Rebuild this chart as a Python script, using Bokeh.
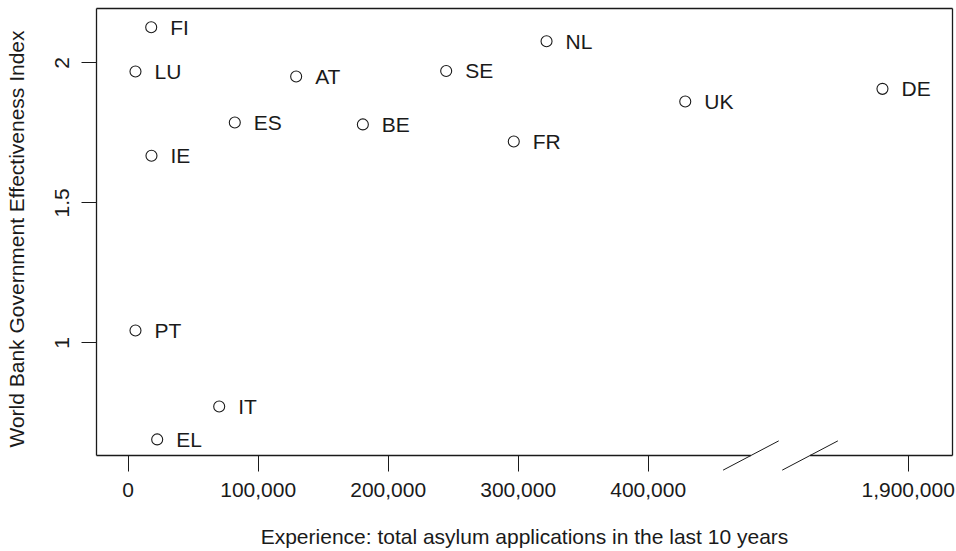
from bokeh.plotting import figure
from bokeh.models import Range1d, FixedTicker, ColumnDataSource
from bokeh.core.properties import value
from bokeh.embed import file_html
from bokeh.resources import INLINE

# ---- data ----
countries = ["FI", "LU", "AT", "SE", "ES", "BE", "IE", "NL", "UK", "FR", "DE", "PT", "IT", "EL"]
applications = [17700, 5600, 129200, 244600, 82000, 180500, 17900, 321800, 428500,
                296600, 1880200, 5600, 70000, 22300]
effectiveness = [2.127, 1.969, 1.951, 1.971, 1.787, 1.780, 1.668, 2.077, 1.862,
                 1.719, 1.907, 1.044, 0.7725, 0.655]

x_ticks = [0, 100000, 200000, 300000, 400000, 1900000]
x_tick_labels = ["0", "100,000", "200,000", "300,000", "400,000", "1,900,000"]
y_ticks = [1, 1.5, 2]
y_tick_labels = ["1", "1.5", "2"]

x_title = "Experience: total asylum applications in the last 10 years"
y_title = "World Bank Government Effectiveness Index"

# axis break: values from BREAK_FROM upward are drawn shifted left by BREAK_SHIFT
BREAK_FROM = 1000000
BREAK_SHIFT = 1300000
GAP_LEFT, GAP_RIGHT = 479000, 524500   # where the broken axis is drawn


def bx(v):
    return v - BREAK_SHIFT if v >= BREAK_FROM else v


FONT = "Liberation Sans"
INK = "#1a1a1a"
FS = "21px"

# plot box (R-style) and the slightly larger frame that holds it
bx0, bx1 = -24385, 634077
by0, by1 = 0.5975, 2.1939
fx0, fx1 = -25923, 635615
fy0, fy1 = 0.5404, 2.2011

p = figure(width=956, height=551, output_backend="svg", toolbar_location=None,
           x_range=Range1d(fx0, fx1), y_range=Range1d(fy0, fy1),
           min_border_left=94, min_border_right=2, min_border_top=6, min_border_bottom=80)
p.grid.visible = False
p.outline_line_color = None
p.background_fill_color = "white"
p.border_fill_color = "white"

# x axis
xa = p.xaxis[0]
xa.ticker = FixedTicker(ticks=[bx(t) for t in x_ticks])
xa.major_label_overrides = {bx(t): lab for t, lab in zip(x_ticks, x_tick_labels)}
# y axis
ya = p.yaxis[0]
ya.ticker = FixedTicker(ticks=y_ticks)
ya.major_label_overrides = {float(t): lab for t, lab in zip(y_ticks, y_tick_labels)}
ya.major_label_orientation = "vertical"

for ax in (xa, ya):
    ax.axis_line_color = None
    ax.minor_tick_line_color = None
    ax.major_tick_line_color = INK
    ax.major_tick_line_width = 1
    ax.major_label_text_font = FONT
    ax.major_label_text_font_size = FS
    ax.major_label_text_color = INK
    ax.axis_label_text_font = FONT
    ax.axis_label_text_font_size = FS
    ax.axis_label_text_font_style = "normal"
    ax.axis_label_text_color = INK

xa.major_tick_out = 0
xa.major_tick_in = 16
xa.axis_label = x_title
xa.major_label_standoff = 11
xa.axis_label_standoff = 25

ya.major_tick_out = 13
ya.major_tick_in = 2
ya.axis_label = y_title
ya.major_label_standoff = 12
ya.axis_label_standoff = 25

# box with a gap at the axis break
box = ColumnDataSource(dict(
    x0=[bx0, bx0, bx1, bx0, GAP_RIGHT],
    y0=[by0, by1, by1, by0, by0],
    x1=[bx0, bx1, bx1, GAP_LEFT, bx1],
    y1=[by1, by1, by0, by0, by0],
))
p.segment("x0", "y0", "x1", "y1", source=box, line_color=INK, line_width=1.3)

# break slashes
dx, dy = 21400, 0.0523
slash = ColumnDataSource(dict(
    x0=[GAP_LEFT - dx, GAP_RIGHT - dx], y0=[by0 - dy, by0 - dy],
    x1=[GAP_LEFT + dx, GAP_RIGHT + dx], y1=[by0 + dy, by0 + dy],
))
p.segment("x0", "y0", "x1", "y1", source=slash, line_color=INK, line_width=1)

src = ColumnDataSource(dict(x=[bx(a) for a in applications], y=effectiveness, name=countries))
p.scatter("x", "y", source=src, marker="circle", size=11, fill_color=None,
          line_color=INK, line_width=1.1)
p.text("x", "y", text="name", source=src, x_offset=19, text_align="left",
       text_baseline="middle", text_font=value(FONT), text_font_size=FS, text_color=INK)

open("out.html", "w").write(file_html(p, INLINE))
